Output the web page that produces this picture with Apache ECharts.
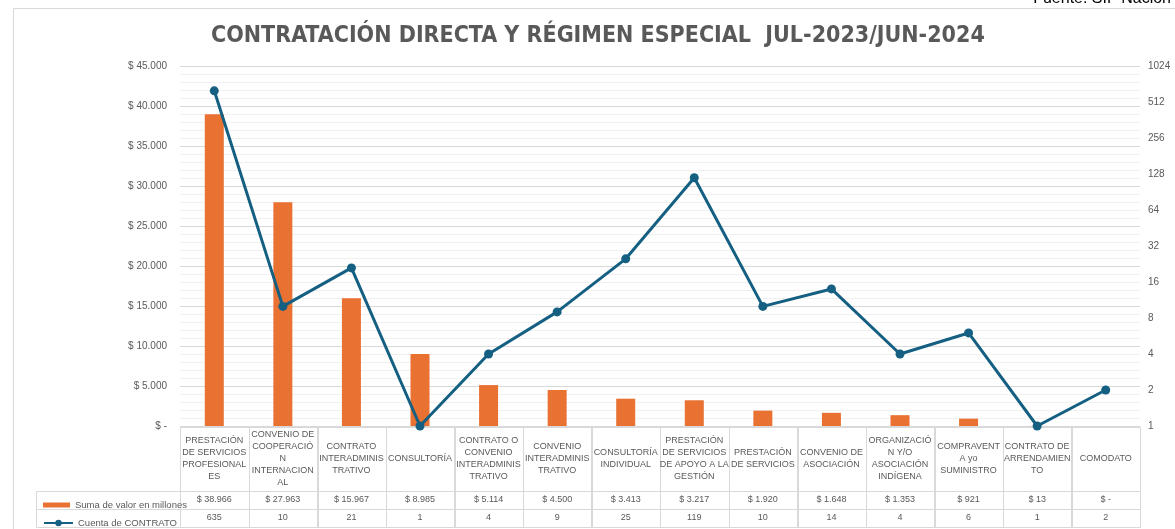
<!DOCTYPE html>
<html>
<head>
<meta charset="utf-8">
<script src="https://cdn.jsdelivr.net/npm/echarts@6/dist/echarts.min.js"></script>
<style>
  html, body { margin: 0; padding: 0; background: #fff; }
  #chart { width: 1175px; height: 529px; }
</style>
</head>
<body>
<div id="chart"></div>
<script>
// categorias, con los saltos de linea que muestra la tabla
var categorias = [
  'PRESTACIÓN\nDE SERVICIOS\nPROFESIONAL\nES',
  'CONVENIO DE\nCOOPERACIÓ\nN\nINTERNACION\nAL',
  'CONTRATO\nINTERADMINIS\nTRATIVO',
  'CONSULTORÍA',
  'CONTRATO O\nCONVENIO\nINTERADMINIS\nTRATIVO',
  'CONVENIO\nINTERADMINIS\nTRATIVO',
  'CONSULTORÍA\nINDIVIDUAL',
  'PRESTACIÓN\nDE SERVICIOS\nDE APOYO A LA\nGESTIÓN',
  'PRESTACIÓN\nDE SERVICIOS',
  'CONVENIO DE\nASOCIACIÓN',
  'ORGANIZACIÓ\nN Y/O\nASOCIACIÓN\nINDÍGENA',
  'COMPRAVENT\nA yo\nSUMINISTRO',
  'CONTRATO DE\nARRENDAMIEN\nTO',
  'COMODATO'
];
// suma de valor en millones
var valores = [38966, 27963, 15967, 8985, 5114, 4500, 3413, 3217, 1920, 1648, 1353, 921, 13, 0];
// cuenta de contratos
var cuentas = [635, 10, 21, 1, 4, 9, 25, 119, 10, 14, 4, 6, 1, 2];

var NARANJA = '#E97132';
var AZUL = '#156082';
var GRIS = '#595959';
var BORDE = '#d9d9d9';

function pesos(v) {
  if (v === 0) return '$ -';
  return '$ ' + String(v).replace(/\B(?=(\d{3})+(?!\d))/g, '.');
}

// filas de la tabla (en px dentro del grid de la tabla)
var filas = [0, 64, 82, 100];
var celdas = [];
for (var i = 0; i < categorias.length; i++) {
  celdas.push([i, 0, categorias[i]]);
  celdas.push([i, 1, pesos(valores[i])]);
  celdas.push([i, 2, String(cuentas[i])]);
}

var chart = echarts.init(document.getElementById('chart'));
chart.setOption({
  animation: false,
  title: {
    text: 'CONTRATACIÓN DIRECTA Y RÉGIMEN ESPECIAL  JUL-2023/JUN-2024',
    left: 206,
    top: 20,
    textStyle: { fontFamily: 'DejaVu Sans Condensed', fontWeight: 'bold', fontSize: 23, color: GRIS }
  },
  legend: [{
    data: [{ name: 'Suma de valor en millones', icon: 'rect' }],
    left: 38, top: 495, itemWidth: 27, itemHeight: 5, itemGap: 3,
    textStyle: { fontFamily: 'Liberation Sans', fontSize: 9.5, color: GRIS }
  }, {
    data: ['Cuenta de CONTRATO'],
    left: 38, top: 513, itemWidth: 29, itemHeight: 8, itemGap: 3,
    textStyle: { fontFamily: 'Liberation Sans', fontSize: 9.5, color: GRIS }
  }],
  grid: [
    { left: 180, right: 35, top: 66, height: 360 },
    { left: 180, right: 35, top: 427, height: 100 }
  ],
  xAxis: [{
    type: 'category', gridIndex: 0, data: categorias,
    axisLine: { show: false }, axisTick: { show: false }, axisLabel: { show: false }
  }, {
    type: 'category', gridIndex: 1, data: categorias,
    axisLine: { show: false }, axisTick: { show: false }, axisLabel: { show: false }
  }],
  yAxis: [{
    type: 'value', gridIndex: 0, min: 0, max: 45000, interval: 5000,
    axisLabel: {
      formatter: pesos, color: GRIS, fontFamily: 'Liberation Sans', fontSize: 10, margin: 13
    },
    splitLine: { lineStyle: { color: BORDE, width: 1 } },
    minorTick: { show: false, splitNumber: 5 },
    minorSplitLine: { show: true, lineStyle: { color: '#f0f0f0', width: 1 } }
  }, {
    type: 'log', gridIndex: 0, logBase: 2, min: 1, max: 1024, interval: 1,
    position: 'right',
    axisLine: { show: false }, axisTick: { show: false },
    axisLabel: {
      formatter: function (v) { return String(Math.round(v)); },
      color: GRIS, fontFamily: 'Liberation Sans', fontSize: 10, margin: 8
    },
    splitLine: { show: false }
  }, {
    type: 'value', gridIndex: 1, min: 0, max: 100, inverse: true, show: false
  }],
  graphic: [
    { type: 'rect', shape: { x: 13.5, y: 8.5, width: 1200, height: 600 }, style: { fill: 'none', stroke: BORDE, lineWidth: 1 }, silent: true },
    { type: 'rect', shape: { x: 36.5, y: 491.5, width: 144, height: 18 }, style: { fill: 'none', stroke: BORDE, lineWidth: 1 }, silent: true },
    { type: 'rect', shape: { x: 36.5, y: 509.5, width: 144, height: 18 }, style: { fill: 'none', stroke: BORDE, lineWidth: 1 }, silent: true },
    { type: 'text', right: 4, top: -9, style: { text: 'Fuente: SIF Nación', font: '16px Liberation Sans', fill: '#000' }, silent: true }
  ],
  series: [{
    name: 'Suma de valor en millones',
    type: 'bar', xAxisIndex: 0, yAxisIndex: 0,
    data: valores, barWidth: 19,
    itemStyle: { color: NARANJA }
  }, {
    name: 'Cuenta de CONTRATO',
    type: 'line', xAxisIndex: 0, yAxisIndex: 1,
    data: cuentas, symbol: 'circle', symbolSize: 9,
    lineStyle: { color: AZUL, width: 3 },
    itemStyle: { color: AZUL },
    z: 3
  }, {
    // tabla de datos bajo el grafico
    type: 'custom', xAxisIndex: 1, yAxisIndex: 2,
    data: celdas,
    silent: true,
    renderItem: function (params, api) {
      var c = api.value(0), f = api.value(1);
      var texto = celdas[params.dataIndex][2];
      var ancho = api.size([1, 0])[0];
      var cx = api.coord([c, 0])[0];
      var y0 = api.coord([c, filas[f]])[1];
      var y1 = api.coord([c, filas[f + 1]])[1];
      var x0 = Math.round(cx - ancho / 2) + 0.5;
      return {
        type: 'group',
        children: [{
          type: 'rect',
          shape: { x: x0, y: Math.round(y0) + 0.5, width: Math.round(ancho), height: Math.round(y1 - y0) },
          style: { fill: 'none', stroke: BORDE, lineWidth: 1 }
        }, {
          type: 'text',
          style: {
            text: texto, x: cx, y: (y0 + y1) / 2, align: 'center', verticalAlign: 'middle',
            fill: GRIS, font: '9px Liberation Sans', lineHeight: 12
          }
        }]
      };
    }
  }]
});
</script>
</body>
</html>
